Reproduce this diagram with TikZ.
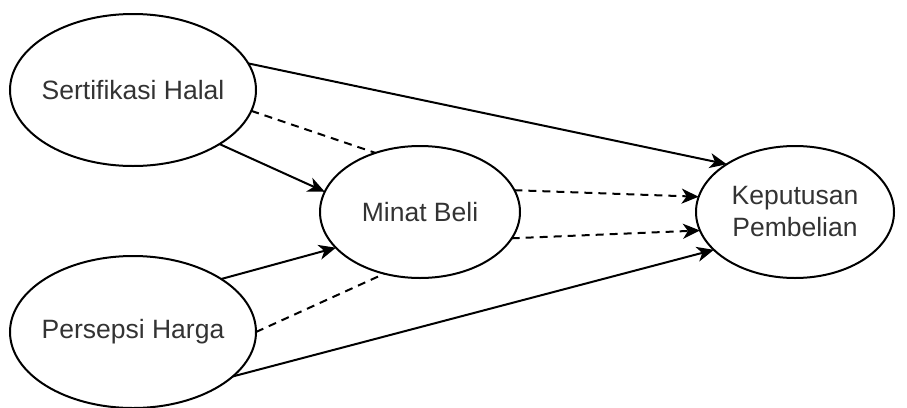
\documentclass[tikz,border=0pt]{standalone}
\usepackage{fontspec}
\setmainfont{Liberation Sans}
\usetikzlibrary{shapes.geometric,arrows.meta}
\begin{document}
\begin{tikzpicture}[x=1pt,y=-1pt,
  var/.style={draw, ellipse, line width=2pt, inner xsep=-25pt, inner ysep=0pt, outer sep=0pt,
    text=black!80, font=\fontsize{26.5}{32}\selectfont, align=center},
  big/.style={var, minimum width=246pt, minimum height=152pt},
  mid/.style={var, minimum width=200pt, minimum height=132pt},
  link/.style={line width=2pt, -{Stealth[length=17pt,width=15pt,inset=5pt]}},
  dlink/.style={line width=2pt, dash pattern=on 8pt off 6pt},
  darrow/.style={dlink, -{Stealth[length=17pt,width=15pt,inset=5pt]}}]
\useasboundingbox (0,0) rectangle (907,407);
\node[big] (sh) at (133,90) {Sertifikasi Halal};
\node[big] (ph) at (133,332) {Persepsi Harga};
\node[mid] (mb) at (420,212) {Minat Beli};
\node[mid, minimum width=198pt] (kp) at (795,212) {Keputusan\\Pembelian};
\draw[link] (sh.13.8) -- (kp.145.7);
\draw[dlink] (sh.-10.6) -- (mb.127);
\draw[link] (sh.-32.5) -- (mb.168.5);
\draw[link] (ph.31.4) -- (mb.203.5);
\draw[dlink] (ph.0) -- (mb.240.4);
\draw[link] (ph.-24.1) -- (kp.205.2);
\draw[darrow] (mb.13.8) -- (kp.171.9);
\draw[darrow] (mb.-16) -- (kp.191.5);
\end{tikzpicture}
\end{document}
